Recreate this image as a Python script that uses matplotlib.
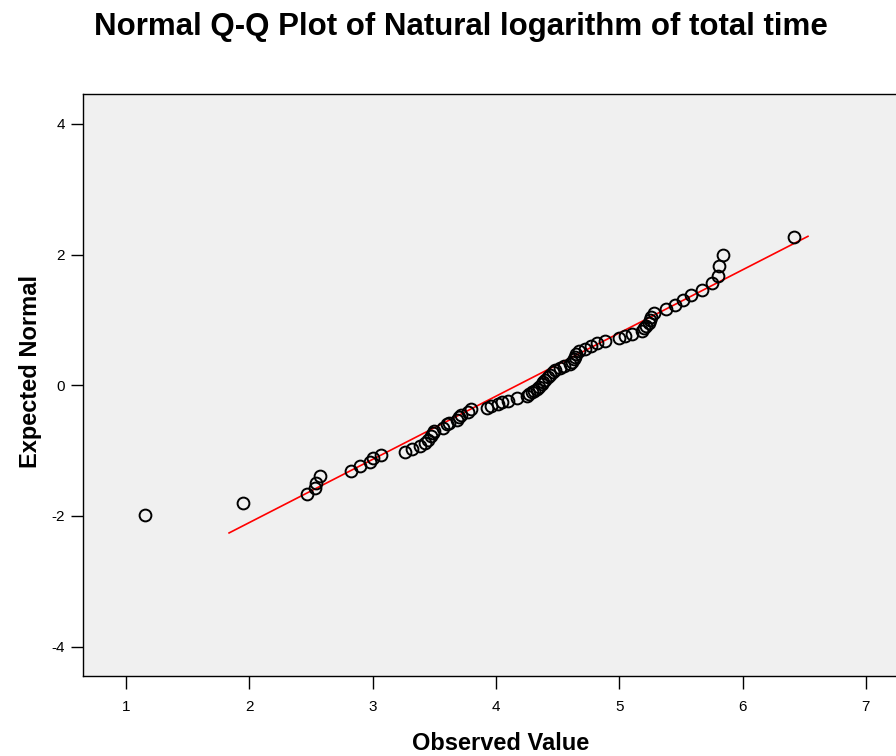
import matplotlib
matplotlib.use("Agg")
import matplotlib.pyplot as plt

plt.rcParams["font.family"] = ["Liberation Sans", "DejaVu Sans"]
plt.rcParams["axes.unicode_minus"] = False

observed = [
    1.15, 1.95, 2.47, 2.53, 2.54, 2.57,
    2.82, 2.90, 2.98, 3.00, 3.07,
    3.26, 3.32, 3.38, 3.42, 3.45, 3.47, 3.49, 3.50,
    3.57, 3.60, 3.62, 3.68, 3.70, 3.72, 3.77, 3.80,
    3.93, 3.96, 4.02, 4.05, 4.10, 4.17,
    4.25, 4.27, 4.29, 4.31, 4.33, 4.35, 4.37, 4.38, 4.40, 4.42, 4.44, 4.46, 4.48, 4.52,
    4.55, 4.60, 4.62, 4.63, 4.64, 4.65, 4.67,
    4.72, 4.77, 4.82, 4.88,
    5.00, 5.05, 5.10,
    5.18, 5.20, 5.22, 5.24, 5.25, 5.26, 5.28,
    5.38, 5.45, 5.52, 5.58, 5.67, 5.75, 5.80, 5.81, 5.84,
    6.42,
]
expected = [
    -1.99, -1.80, -1.67, -1.57, -1.49, -1.39,
    -1.31, -1.24, -1.17, -1.12, -1.07,
    -1.02, -0.98, -0.93, -0.88, -0.83, -0.78, -0.73, -0.70,
    -0.65, -0.60, -0.57, -0.53, -0.49, -0.45, -0.41, -0.37,
    -0.35, -0.31, -0.29, -0.26, -0.24, -0.20,
    -0.17, -0.14, -0.11, -0.08, -0.05, -0.02, 0.02, 0.05, 0.08, 0.12, 0.16, 0.20, 0.24, 0.27,
    0.30, 0.33, 0.36, 0.40, 0.44, 0.48, 0.52,
    0.56, 0.60, 0.64, 0.68,
    0.72, 0.75, 0.79,
    0.83, 0.87, 0.91, 0.96, 1.00, 1.05, 1.10,
    1.17, 1.23, 1.30, 1.38, 1.46, 1.56, 1.68, 1.82, 1.99,
    2.27,
]

# reference line end points
line_x = [1.835, 6.53]
line_y = [-2.26, 2.28]

fig = plt.figure(figsize=(8.96, 7.56), dpi=100)
ax = fig.add_axes([0.0926, 0.1058, 0.933, 0.770])
ax.set_facecolor("#f0f0f0")

ax.plot(line_x, line_y, color="red", linewidth=1.2, zorder=2)
ax.plot(observed, expected, linestyle="none", marker="o", markersize=8.5,
        markerfacecolor="none", markeredgecolor="black", markeredgewidth=1.4, zorder=3)

ax.set_xlim(0.65, 7.43)
ax.set_ylim(-4.45, 4.46)
ax.set_xticks([1, 2, 3, 4, 5, 6, 7])
ax.set_yticks([-4, -2, 0, 2, 4])
ax.tick_params(direction="out", length=9, width=1, labelsize=11, pad=4)
ax.tick_params(axis="x", pad=8)

for s in ax.spines.values():
    s.set_color("black")
    s.set_linewidth(1)

fig.text(501 / 896, 1 - 743 / 756, "Observed Value", fontsize=17, fontweight="bold",
         ha="center", va="center")
fig.text(30 / 896, 1 - 372 / 756, "Expected Normal", fontsize=17, fontweight="bold",
         ha="center", va="center", rotation=90)
fig.text(461 / 896, 1 - 27 / 756, "Normal Q-Q Plot of Natural logarithm of total time",
         fontsize=22.5, fontweight="bold", ha="center", va="center")

fig.savefig("out.png", dpi=100)
